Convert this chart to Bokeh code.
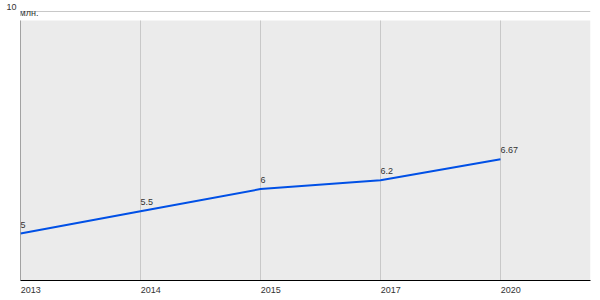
from bokeh.plotting import figure
from bokeh.models import Range1d, FixedTicker, BoxAnnotation, Label, ColumnDataSource
from bokeh.core.properties import value
from bokeh.embed import file_html
from bokeh.resources import INLINE

years = ["2013", "2014", "2015", "2017", "2020"]
values = [5, 5.5, 6, 6.2, 6.67]
value_labels = ["5", "5.5", "6", "6.2", "6.67"]
y_ticks = [10]
unit_label = "млн."

FONT = "Liberation Sans"
PX = 44.4                      # pixels per y unit
YMIN, YMAX = 10 - 269 / PX, 10 + 7 / PX
BAND_TOP = 10 - 9 / PX
X_LABEL_SHIFT = 0.085          # left-align year labels at their tick
Y_LABEL_SHIFT = 5 / PX         # put "10" above its grid line

idx = list(range(len(years)))
src = ColumnDataSource(dict(x=idx, y=values, t=value_labels,
                            y0=[YMIN] * len(idx), y1=[BAND_TOP] * len(idx)))

p = figure(width=600, height=300, output_backend="svg", toolbar_location=None,
           x_range=Range1d(0, 4.75), y_range=Range1d(YMIN, YMAX),
           min_border_left=20, min_border_right=10, min_border_top=4, min_border_bottom=20)
p.background_fill_color = "white"
p.border_fill_color = "white"
p.outline_line_color = None

band = BoxAnnotation(bottom=YMIN, top=BAND_TOP, fill_color="#ebebeb", fill_alpha=1,
                     line_color=None, level="underlay")
p.add_layout(band)

# vertical grid lines at categories
p.segment(x0="x", y0="y0", x1="x", y1="y1", source=src, line_color="#c8c8c8", line_width=1)

# left axis line (black), from band top to bottom
p.add_layout(BoxAnnotation(left=0, right=0, bottom=YMIN, top=BAND_TOP, fill_alpha=0,
                           line_color="black", line_width=1))

p.line("x", "y", source=src, line_color="#0050e6", line_width=2)
p.text("x", "y", text="t", source=src, text_font=value(FONT), text_font_size="9px",
       text_color="#333333", text_baseline="bottom", text_align="left", y_offset=-6)

p.xgrid.visible = False
p.ygrid.ticker = FixedTicker(ticks=y_ticks)
p.ygrid.grid_line_color = "#c8c8c8"

xa = p.xaxis[0]
xticks = [i + X_LABEL_SHIFT for i in idx]
xa.ticker = FixedTicker(ticks=xticks)
xa.major_label_overrides = {t: y for t, y in zip(xticks, years)}
xa.major_tick_line_color = None
xa.major_tick_out = 0
xa.major_tick_in = 0
xa.minor_tick_line_color = None
xa.axis_line_color = "black"
xa.major_label_standoff = 6
xa.major_label_text_font = FONT
xa.major_label_text_font_size = "9px"
xa.major_label_text_color = "#333333"

ya = p.yaxis[0]
yticks = [t + Y_LABEL_SHIFT for t in y_ticks]
ya.ticker = FixedTicker(ticks=yticks)
ya.major_label_overrides = {t: str(v) for t, v in zip(yticks, y_ticks)}
ya.axis_line_color = None
ya.major_tick_line_color = None
ya.major_tick_out = 0
ya.major_tick_in = 0
ya.minor_tick_line_color = None
ya.major_label_standoff = 4
ya.major_label_text_font = FONT
ya.major_label_text_font_size = "9px"
ya.major_label_text_color = "#333333"

p.add_layout(Label(x=0, y=10 - 1 / PX, text=unit_label, text_font=FONT,
                   text_font_size="9px", text_color="#333333", text_baseline="alphabetic",
                   x_offset=-1))

open("out.html", "w").write(file_html(p, INLINE))
